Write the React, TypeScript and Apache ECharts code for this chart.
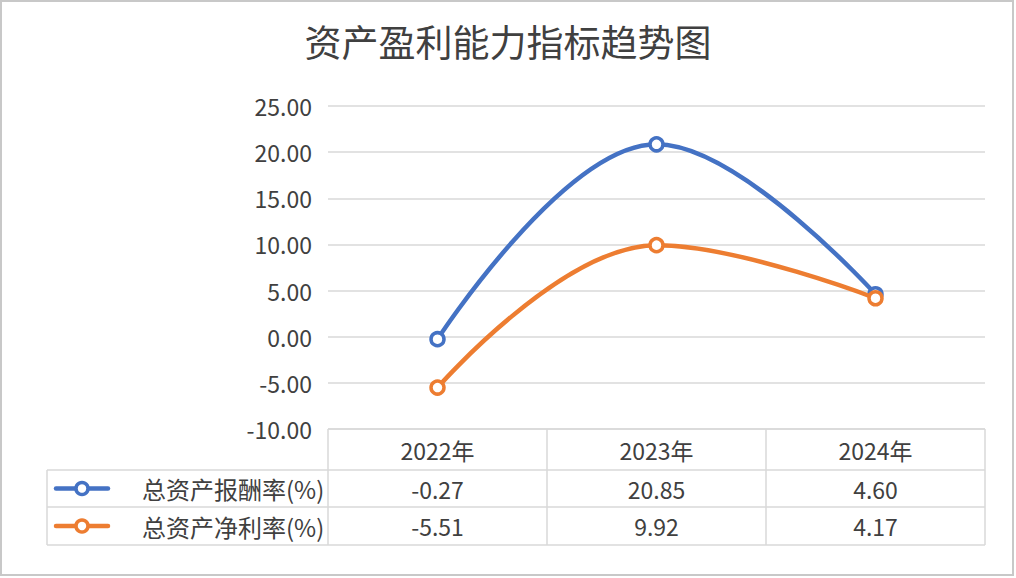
import React, { useEffect, useRef } from "react";
import * as echarts from "echarts";

const title = "资产盈利能力指标趋势图";
const categories = ["2022年", "2023年", "2024年"];
const seriesNames = ["总资产报酬率(%)", "总资产净利率(%)"];
const roaTotal = [-0.27, 20.85, 4.6];
const roaNet = [-5.51, 9.92, 4.17];
const colors = ["#4472C4", "#ED7D31"];

const W = 1016;
const H = 578;
const gridL = 328;
const gridR = 985;
const gridT = 106;
const gridB = 429;
const rowH = [41, 37, 38];
const tableL = 47;
const font = '"Noto Sans CJK SC", "Microsoft YaHei", sans-serif';
const textColor = "#404040";
const lineColor = "#d9d9d9";
const fs = 23;

export default function App() {
  const ref = useRef<HTMLDivElement>(null);
  useEffect(() => {
    document.body.style.margin = "0";
    const chart = echarts.init(ref.current!, null, { renderer: "svg" });
    const values = [roaTotal, roaNet];
    const colW = (gridR - gridL) / categories.length;
    const graphics: any[] = [];
    const y1 = gridB + rowH[0];
    const y2 = y1 + rowH[1];
    const y3 = y2 + rowH[2];
    const ls = { stroke: lineColor, lineWidth: 1.5 };
    graphics.push({ type: "line", shape: { x1: gridL, y1: gridB, x2: gridR, y2: gridB }, style: ls });
    graphics.push({ type: "line", shape: { x1: tableL, y1: y1, x2: gridR, y2: y1 }, style: ls });
    graphics.push({ type: "line", shape: { x1: tableL, y1: y2, x2: gridR, y2: y2 }, style: ls });
    graphics.push({ type: "line", shape: { x1: tableL, y1: y3, x2: gridR, y2: y3 }, style: ls });
    graphics.push({ type: "line", shape: { x1: tableL, y1: y1, x2: tableL, y2: y3 }, style: ls });
    for (let i = 0; i <= categories.length; i++) {
      const x = gridL + colW * i;
      graphics.push({ type: "line", shape: { x1: x, y1: gridB, x2: x, y2: y3 }, style: ls });
    }
    categories.forEach((c, i) => {
      graphics.push({
        type: "text",
        x: gridL + colW * (i + 0.5),
        y: gridB + rowH[0] / 2,
        style: { text: c, font: `${fs}px ${font}`, fill: textColor, align: "center", verticalAlign: "middle" },
      });
    });
    const rowsY = [y1 + rowH[1] / 2, y2 + rowH[2] / 2];
    seriesNames.forEach((n, r) => {
      const cy = rowsY[r];
      graphics.push({ type: "line", shape: { x1: 56, y1: cy, x2: 108, y2: cy }, style: { stroke: colors[r], lineWidth: 4.5, lineCap: "round" } });
      graphics.push({ type: "circle", shape: { cx: 82, cy, r: 6 }, style: { fill: "#fff", stroke: colors[r], lineWidth: 3.5 } });
      graphics.push({
        type: "text",
        x: 142,
        y: cy,
        style: { text: n, font: `${fs + 1}px ${font}`, fill: textColor, align: "left", verticalAlign: "middle" },
      });
      values[r].forEach((v, i) => {
        graphics.push({
          type: "text",
          x: gridL + colW * (i + 0.5),
          y: cy,
          style: { text: v.toFixed(2), font: `${fs}px ${font}`, fill: textColor, align: "center", verticalAlign: "middle" },
        });
      });
    });
    graphics.push({ type: "rect", shape: { x: 1, y: 1, width: W - 4, height: H - 4 }, style: { fill: "none", stroke: "#c8c8c8", lineWidth: 2 } });

    chart.setOption({
      animation: false,
      backgroundColor: "#fff",
      title: {
        text: title,
        left: "center",
        top: 17,
        textStyle: { fontFamily: font, fontSize: 37, fontWeight: "normal", color: "#404040" },
      },
      grid: { left: gridL, right: W - gridR, top: gridT, bottom: H - gridB },
      xAxis: {
        type: "category",
        data: categories,
        boundaryGap: true,
        axisLine: { show: false },
        axisTick: { show: false },
        axisLabel: { show: false },
      },
      yAxis: {
        type: "value",
        min: -10,
        max: 25,
        interval: 5,
        axisLine: { show: false },
        axisTick: { show: false },
        splitLine: { lineStyle: { color: lineColor, width: 1.5 } },
        axisLabel: {
          formatter: (v: number) => v.toFixed(2),
          fontFamily: font,
          fontSize: fs,
          color: textColor,
          margin: 16,
        },
      },
      series: seriesNames.map((n, r) => ({
        name: n,
        type: "line",
        data: values[r],
        smooth: 0.4,
        symbol: "circle",
        symbolSize: 13,
        lineStyle: { color: colors[r], width: 4.5 },
        itemStyle: { color: "#fff", borderColor: colors[r], borderWidth: 3.5 },
        z: 3 + r,
      })),
      graphic: graphics,
    });
    return () => chart.dispose();
  }, []);
  return <div ref={ref} style={{ position: "fixed", left: 0, top: 0, width: W, height: H }} />;
}
